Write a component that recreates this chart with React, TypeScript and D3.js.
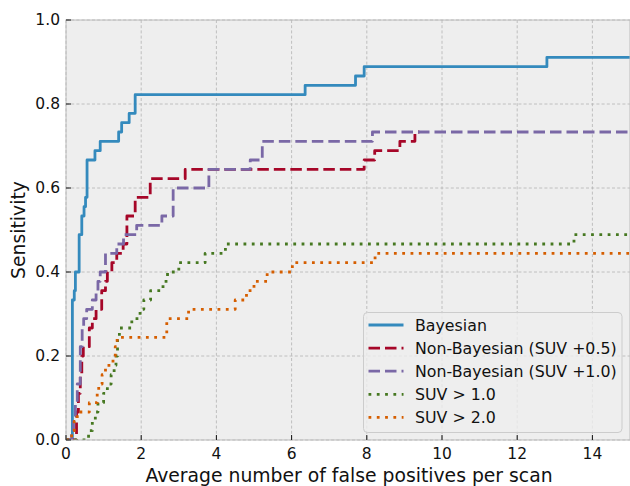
import React from "react";
import * as d3 from "d3";

// Sensitivity is counted in lesions out of 45; x is the average number of
// false positives per scan at which the step occurs.
const TOTAL = 45;

const bayesianX = [0, 0.17, 0.22, 0.25, 0.35, 0.42, 0.48, 0.52, 0.56, 0.77, 0.91, 1.4, 1.48, 1.68, 1.84, 6.36, 7.7, 7.93, 12.79, 15];
const bayesianK = [0, 15, 16, 18, 22, 24, 25, 26, 30, 31, 32, 33, 34, 35, 37, 38, 39, 40, 41, 41];

const nonBayes05X = [0, 0.28, 0.33, 0.38, 0.42, 0.46, 0.62, 0.7, 0.8, 0.95, 1.05, 1.1, 1.22, 1.35, 1.52, 1.62, 1.84, 2.24, 3.17, 7.93, 8.21, 8.88, 9.28, 9.4];
const nonBayes05K = [0, 3, 5, 7, 9, 10, 12, 13, 14, 16, 17, 18, 19, 20, 21, 24, 26, 28, 29, 30, 31, 32, 33, 33];

const nonBayes10X = [0, 0.15, 0.2, 0.25, 0.3, 0.38, 0.43, 0.47, 0.55, 0.7, 0.8, 0.85, 0.91, 1.05, 1.35, 1.53, 1.88, 2.55, 2.85, 3.8, 4.9, 5.22, 8.15, 15];
const nonBayes10K = [0, 1, 2, 4, 6, 10, 12, 13, 14, 15, 16, 17, 18, 20, 21, 22, 23, 24, 27, 29, 30, 32, 33, 33];

const suv1X = [0, 0.6, 0.7, 0.78, 0.85, 1.0, 1.1, 1.2, 1.28, 1.33, 1.37, 1.42, 1.75, 1.97, 2.07, 2.25, 2.58, 2.7, 3.0, 3.7, 4.24, 13.51, 15];
const suv1K = [0, 1, 2, 3, 4, 5, 6, 7, 8, 9, 11, 12, 13, 14, 15, 16, 17, 18, 19, 20, 21, 22, 22];

const suv2X = [0, 0.15, 0.22, 0.3, 0.62, 0.83, 0.87, 0.96, 1.05, 1.25, 1.31, 1.36, 2.68, 3.26, 4.5, 4.8, 5.0, 5.35, 6.02, 8.22, 15];
const suv2K = [0, 1, 2, 3, 4, 5, 6, 7, 8, 9, 10, 11, 13, 14, 15, 16, 17, 18, 19, 20, 20];

const seriesNames = ["Bayesian", "Non-Bayesian (SUV +0.5)", "Non-Bayesian (SUV +1.0)", "SUV > 1.0", "SUV > 2.0"];
const seriesColors = ["#348ABD", "#A60628", "#7A68A6", "#467821", "#D55E00"];
const seriesDash = ["none", "11.5 5", "11.5 5", "2.8 5.5", "2.8 5.5"];
const seriesXs = [bayesianX, nonBayes05X, nonBayes10X, suv1X, suv2X];
const seriesKs = [bayesianK, nonBayes05K, nonBayes10K, suv1K, suv2K];

const xTicks = [0, 2, 4, 6, 8, 10, 12, 14];
const yTicks = [0, 0.2, 0.4, 0.6, 0.8, 1.0];

const W = 630;
const H = 486;
const M = { left: 66, right: 630, top: 20, bottom: 440 };
const FONT = "DejaVu Sans, Verdana, sans-serif";

export default function App() {
  const x = d3.scaleLinear().domain([0, 15]).range([M.left, M.right]);
  const y = d3.scaleLinear().domain([0, 1]).range([M.bottom, M.top]);
  const line = d3
    .line<[number, number]>()
    .x((d) => x(d[0]))
    .y((d) => y(d[1]))
    .curve(d3.curveStepAfter);

  const lw = 2.8;
  const legX = 363.5;
  const legY = 312.5;
  const legRow = 23.1;

  return (
    <svg
      width={W}
      height={H}
      style={{ position: "absolute", left: 0, top: 0, background: "#ffffff" }}
      fontFamily={FONT}
    >
      <defs>
        <clipPath id="plotArea">
          <rect x={M.left} y={M.top} width={M.right - M.left} height={M.bottom - M.top} />
        </clipPath>
      </defs>
      <rect x={M.left} y={M.top} width={M.right - M.left} height={M.bottom - M.top} fill="#eeeeee" />

      {/* grid */}
      <g stroke="#b2b2b2" strokeWidth={0.8} strokeDasharray="3 2.2">
        {xTicks.map((t) => (
          <line key={"gx" + t} x1={x(t)} x2={x(t)} y1={M.top} y2={M.bottom} />
        ))}
        {yTicks.map((t) => (
          <line key={"gy" + t} x1={M.left} x2={M.right} y1={y(t)} y2={y(t)} />
        ))}
      </g>

      {/* curves */}
      <g clipPath="url(#plotArea)" fill="none">
        {seriesXs.map((xs, i) => {
          const pts: [number, number][] = xs.map((v, j) => [v, seriesKs[i][j] / TOTAL]);
          return (
            <path
              key={seriesNames[i]}
              d={line(pts) || ""}
              stroke={seriesColors[i]}
              strokeWidth={lw}
              strokeDasharray={seriesDash[i]}
              strokeLinejoin="round"
              strokeLinecap={i === 0 ? "square" : "butt"}
            />
          );
        })}
      </g>

      {/* frame */}
      <rect
        x={M.left}
        y={M.top}
        width={M.right - M.left}
        height={M.bottom - M.top}
        fill="none"
        stroke="#bcbcbc"
        strokeWidth={1}
      />

      {/* ticks */}
      <g stroke="#111" strokeWidth={1}>
        {xTicks.map((t) => (
          <line key={"tx" + t} x1={x(t)} x2={x(t)} y1={M.bottom} y2={M.bottom - 5} />
        ))}
        {yTicks.map((t) => (
          <line key={"ty" + t} x1={M.left} x2={M.left + 5} y1={y(t)} y2={y(t)} />
        ))}
      </g>
      <g fontSize={15.5} fill="#111">
        {xTicks.map((t) => (
          <text key={"lx" + t} x={x(t)} y={M.bottom + 19} textAnchor="middle">
            {t}
          </text>
        ))}
        {yTicks.map((t) => (
          <text key={"ly" + t} x={M.left - 6} y={y(t)} dy="0.35em" textAnchor="end">
            {t.toFixed(1)}
          </text>
        ))}
      </g>
      <text x={(M.left + M.right) / 2 + 1} y={482} textAnchor="middle" fontSize={18.8} fill="#111">
        Average number of false positives per scan
      </text>
      <text
        transform={`translate(25, ${(M.top + M.bottom) / 2}) rotate(-90)`}
        textAnchor="middle"
        fontSize={18.8}
        fill="#111"
      >
        Sensitivity
      </text>

      {/* legend */}
      <rect
        x={legX}
        y={legY}
        width={258.5}
        height={120}
        rx={4}
        fill="#eeeeee"
        fillOpacity={0.8}
        stroke="#cccccc"
        strokeWidth={1}
      />
      {seriesNames.map((name, i) => {
        const cy = 325 + i * legRow;
        return (
          <g key={"leg" + name}>
            <line
              x1={368.5}
              x2={403.5}
              y1={cy}
              y2={cy}
              stroke={seriesColors[i]}
              strokeWidth={lw}
              strokeDasharray={seriesDash[i]}
            />
            <text x={415} y={cy} dy="0.35em" fontSize={15.8} fill="#111">
              {name}
            </text>
          </g>
        );
      })}
    </svg>
  );
}
